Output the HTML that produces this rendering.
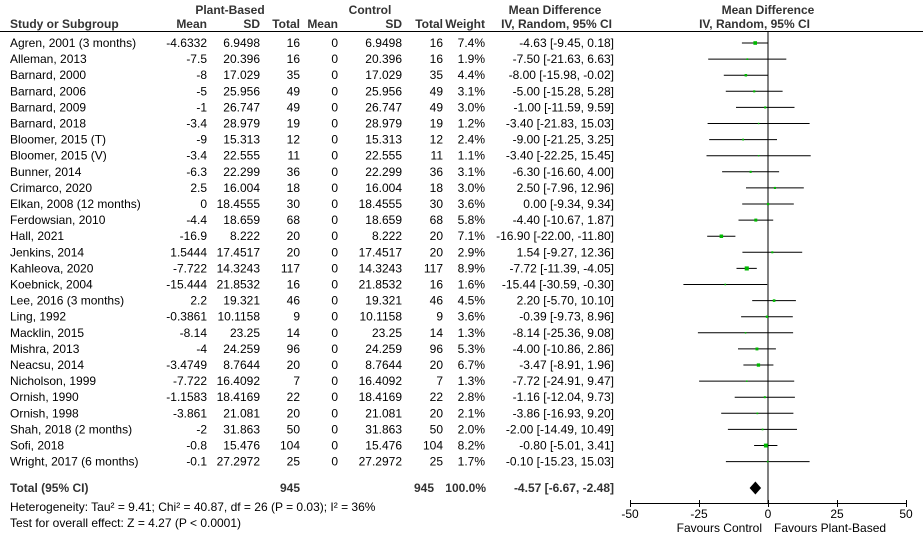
<!DOCTYPE html>
<html><head><meta charset="utf-8"><style>
html,body{margin:0;padding:0;background:#fff;}
svg{display:block;}
text{font-family:"Liberation Sans",Arial,sans-serif;font-size:12px;fill:#000;}
.h{font-weight:bold;fill:#333;}
.r text{text-anchor:end;}
.r text.l{text-anchor:start;}
</style></head><body>
<svg width="923" height="544" viewBox="0 0 923 544" xmlns="http://www.w3.org/2000/svg">
<text class="h" x="230" y="14" text-anchor="middle">Plant-Based</text>
<text class="h" x="370" y="14" text-anchor="middle">Control</text>
<text class="h" x="555" y="14" text-anchor="middle">Mean Difference</text>
<text class="h" x="768" y="14" text-anchor="middle">Mean Difference</text>
<g class="r">
<text class="h l" x="10" y="28">Study or Subgroup</text>
<text class="h" x="207" y="28">Mean</text><text class="h" x="260" y="28">SD</text><text class="h" x="300" y="28">Total</text>
<text class="h" x="338" y="28">Mean</text><text class="h" x="402" y="28">SD</text><text class="h" x="443" y="28">Total</text>
<text class="h" x="485" y="28">Weight</text><text class="h" x="612" y="28">IV, Random, 95% CI</text>
<text class="h" x="810" y="28">IV, Random, 95% CI</text>
</g>
<line x1="0" y1="31.5" x2="923" y2="31.5" stroke="#000"/>
<line x1="768" y1="32" x2="768" y2="503" stroke="#000"/>
<g class="r" id="rows">
<g transform="translate(0,47)"><text class="l" x="10">Agren, 2001 (3 months)</text><text x="207">-4.6332</text><text x="260">6.9498</text><text x="300">16</text><text x="338">0</text><text x="402">6.9498</text><text x="443">16</text><text x="485">7.4%</text><text x="614">-4.63 [-9.45, 0.18]</text></g>
<g transform="translate(0,63.1)"><text class="l" x="10">Alleman, 2013</text><text x="207">-7.5</text><text x="260">20.396</text><text x="300">16</text><text x="338">0</text><text x="402">20.396</text><text x="443">16</text><text x="485">1.9%</text><text x="614">-7.50 [-21.63, 6.63]</text></g>
<g transform="translate(0,79.2)"><text class="l" x="10">Barnard, 2000</text><text x="207">-8</text><text x="260">17.029</text><text x="300">35</text><text x="338">0</text><text x="402">17.029</text><text x="443">35</text><text x="485">4.4%</text><text x="614">-8.00 [-15.98, -0.02]</text></g>
<g transform="translate(0,95.3)"><text class="l" x="10">Barnard, 2006</text><text x="207">-5</text><text x="260">25.956</text><text x="300">49</text><text x="338">0</text><text x="402">25.956</text><text x="443">49</text><text x="485">3.1%</text><text x="614">-5.00 [-15.28, 5.28]</text></g>
<g transform="translate(0,111.4)"><text class="l" x="10">Barnard, 2009</text><text x="207">-1</text><text x="260">26.747</text><text x="300">49</text><text x="338">0</text><text x="402">26.747</text><text x="443">49</text><text x="485">3.0%</text><text x="614">-1.00 [-11.59, 9.59]</text></g>
<g transform="translate(0,127.5)"><text class="l" x="10">Barnard, 2018</text><text x="207">-3.4</text><text x="260">28.979</text><text x="300">19</text><text x="338">0</text><text x="402">28.979</text><text x="443">19</text><text x="485">1.2%</text><text x="614">-3.40 [-21.83, 15.03]</text></g>
<g transform="translate(0,143.6)"><text class="l" x="10">Bloomer, 2015 (T)</text><text x="207">-9</text><text x="260">15.313</text><text x="300">12</text><text x="338">0</text><text x="402">15.313</text><text x="443">12</text><text x="485">2.4%</text><text x="614">-9.00 [-21.25, 3.25]</text></g>
<g transform="translate(0,159.7)"><text class="l" x="10">Bloomer, 2015 (V)</text><text x="207">-3.4</text><text x="260">22.555</text><text x="300">11</text><text x="338">0</text><text x="402">22.555</text><text x="443">11</text><text x="485">1.1%</text><text x="614">-3.40 [-22.25, 15.45]</text></g>
<g transform="translate(0,175.8)"><text class="l" x="10">Bunner, 2014</text><text x="207">-6.3</text><text x="260">22.299</text><text x="300">36</text><text x="338">0</text><text x="402">22.299</text><text x="443">36</text><text x="485">3.1%</text><text x="614">-6.30 [-16.60, 4.00]</text></g>
<g transform="translate(0,191.9)"><text class="l" x="10">Crimarco, 2020</text><text x="207">2.5</text><text x="260">16.004</text><text x="300">18</text><text x="338">0</text><text x="402">16.004</text><text x="443">18</text><text x="485">3.0%</text><text x="614">2.50 [-7.96, 12.96]</text></g>
<g transform="translate(0,208)"><text class="l" x="10">Elkan, 2008 (12 months)</text><text x="207">0</text><text x="260">18.4555</text><text x="300">30</text><text x="338">0</text><text x="402">18.4555</text><text x="443">30</text><text x="485">3.6%</text><text x="614">0.00 [-9.34, 9.34]</text></g>
<g transform="translate(0,224.1)"><text class="l" x="10">Ferdowsian, 2010</text><text x="207">-4.4</text><text x="260">18.659</text><text x="300">68</text><text x="338">0</text><text x="402">18.659</text><text x="443">68</text><text x="485">5.8%</text><text x="614">-4.40 [-10.67, 1.87]</text></g>
<g transform="translate(0,240.2)"><text class="l" x="10">Hall, 2021</text><text x="207">-16.9</text><text x="260">8.222</text><text x="300">20</text><text x="338">0</text><text x="402">8.222</text><text x="443">20</text><text x="485">7.1%</text><text x="614">-16.90 [-22.00, -11.80]</text></g>
<g transform="translate(0,256.3)"><text class="l" x="10">Jenkins, 2014</text><text x="207">1.5444</text><text x="260">17.4517</text><text x="300">20</text><text x="338">0</text><text x="402">17.4517</text><text x="443">20</text><text x="485">2.9%</text><text x="614">1.54 [-9.27, 12.36]</text></g>
<g transform="translate(0,272.4)"><text class="l" x="10">Kahleova, 2020</text><text x="207">-7.722</text><text x="260">14.3243</text><text x="300">117</text><text x="338">0</text><text x="402">14.3243</text><text x="443">117</text><text x="485">8.9%</text><text x="614">-7.72 [-11.39, -4.05]</text></g>
<g transform="translate(0,288.5)"><text class="l" x="10">Koebnick, 2004</text><text x="207">-15.444</text><text x="260">21.8532</text><text x="300">16</text><text x="338">0</text><text x="402">21.8532</text><text x="443">16</text><text x="485">1.6%</text><text x="614">-15.44 [-30.59, -0.30]</text></g>
<g transform="translate(0,304.6)"><text class="l" x="10">Lee, 2016 (3 months)</text><text x="207">2.2</text><text x="260">19.321</text><text x="300">46</text><text x="338">0</text><text x="402">19.321</text><text x="443">46</text><text x="485">4.5%</text><text x="614">2.20 [-5.70, 10.10]</text></g>
<g transform="translate(0,320.7)"><text class="l" x="10">Ling, 1992</text><text x="207">-0.3861</text><text x="260">10.1158</text><text x="300">9</text><text x="338">0</text><text x="402">10.1158</text><text x="443">9</text><text x="485">3.6%</text><text x="614">-0.39 [-9.73, 8.96]</text></g>
<g transform="translate(0,336.8)"><text class="l" x="10">Macklin, 2015</text><text x="207">-8.14</text><text x="260">23.25</text><text x="300">14</text><text x="338">0</text><text x="402">23.25</text><text x="443">14</text><text x="485">1.3%</text><text x="614">-8.14 [-25.36, 9.08]</text></g>
<g transform="translate(0,352.9)"><text class="l" x="10">Mishra, 2013</text><text x="207">-4</text><text x="260">24.259</text><text x="300">96</text><text x="338">0</text><text x="402">24.259</text><text x="443">96</text><text x="485">5.3%</text><text x="614">-4.00 [-10.86, 2.86]</text></g>
<g transform="translate(0,369)"><text class="l" x="10">Neacsu, 2014</text><text x="207">-3.4749</text><text x="260">8.7644</text><text x="300">20</text><text x="338">0</text><text x="402">8.7644</text><text x="443">20</text><text x="485">6.7%</text><text x="614">-3.47 [-8.91, 1.96]</text></g>
<g transform="translate(0,385.1)"><text class="l" x="10">Nicholson, 1999</text><text x="207">-7.722</text><text x="260">16.4092</text><text x="300">7</text><text x="338">0</text><text x="402">16.4092</text><text x="443">7</text><text x="485">1.3%</text><text x="614">-7.72 [-24.91, 9.47]</text></g>
<g transform="translate(0,401.2)"><text class="l" x="10">Ornish, 1990</text><text x="207">-1.1583</text><text x="260">18.4169</text><text x="300">22</text><text x="338">0</text><text x="402">18.4169</text><text x="443">22</text><text x="485">2.8%</text><text x="614">-1.16 [-12.04, 9.73]</text></g>
<g transform="translate(0,417.3)"><text class="l" x="10">Ornish, 1998</text><text x="207">-3.861</text><text x="260">21.081</text><text x="300">20</text><text x="338">0</text><text x="402">21.081</text><text x="443">20</text><text x="485">2.1%</text><text x="614">-3.86 [-16.93, 9.20]</text></g>
<g transform="translate(0,433.4)"><text class="l" x="10">Shah, 2018 (2 months)</text><text x="207">-2</text><text x="260">31.863</text><text x="300">50</text><text x="338">0</text><text x="402">31.863</text><text x="443">50</text><text x="485">2.0%</text><text x="614">-2.00 [-14.49, 10.49]</text></g>
<g transform="translate(0,449.5)"><text class="l" x="10">Sofi, 2018</text><text x="207">-0.8</text><text x="260">15.476</text><text x="300">104</text><text x="338">0</text><text x="402">15.476</text><text x="443">104</text><text x="485">8.2%</text><text x="614">-0.80 [-5.01, 3.41]</text></g>
<g transform="translate(0,465.6)"><text class="l" x="10">Wright, 2017 (6 months)</text><text x="207">-0.1</text><text x="260">27.2972</text><text x="300">25</text><text x="338">0</text><text x="402">27.2972</text><text x="443">25</text><text x="485">1.7%</text><text x="614">-0.10 [-15.23, 15.03]</text></g>
<g transform="translate(0,492)"><text class="h l" x="10">Total (95% CI)</text><text class="h" x="300">945</text><text class="h" x="434">945</text><text class="h" x="486">100.0%</text><text class="h" x="614">-4.57 [-6.67, -2.48]</text></g>
</g>
<text x="10" y="511">Heterogeneity: Tau² = 9.41; Chi² = 40.87, df = 26 (P = 0.03); I² = 36%</text>
<text x="10" y="527">Test for overall effect: Z = 4.27 (P &lt; 0.0001)</text>
<g stroke="#000" stroke-width="1">
<line x1="741.9" y1="43" x2="768.5" y2="43"/>
<line x1="708.2" y1="59.1" x2="786.3" y2="59.1"/>
<line x1="723.8" y1="75.2" x2="767.9" y2="75.2"/>
<line x1="725.8" y1="91.3" x2="782.6" y2="91.3"/>
<line x1="736.0" y1="107.4" x2="794.5" y2="107.4"/>
<line x1="707.6" y1="123.5" x2="809.6" y2="123.5"/>
<line x1="709.2" y1="139.6" x2="777.0" y2="139.6"/>
<line x1="706.5" y1="155.7" x2="810.7" y2="155.7"/>
<line x1="722.1" y1="171.8" x2="779.1" y2="171.8"/>
<line x1="746.0" y1="187.9" x2="803.8" y2="187.9"/>
<line x1="742.2" y1="204" x2="793.8" y2="204"/>
<line x1="738.5" y1="220.1" x2="773.2" y2="220.1"/>
<line x1="707.2" y1="236.2" x2="735.4" y2="236.2"/>
<line x1="742.4" y1="252.3" x2="802.2" y2="252.3"/>
<line x1="736.5" y1="268.4" x2="756.8" y2="268.4"/>
<line x1="683.4" y1="284.5" x2="767.2" y2="284.5"/>
<line x1="752.2" y1="300.6" x2="795.9" y2="300.6"/>
<line x1="741.1" y1="316.7" x2="792.8" y2="316.7"/>
<line x1="697.9" y1="332.8" x2="793.1" y2="332.8"/>
<line x1="738.0" y1="348.9" x2="775.9" y2="348.9"/>
<line x1="743.4" y1="365" x2="773.4" y2="365"/>
<line x1="699.1" y1="381.1" x2="794.2" y2="381.1"/>
<line x1="734.7" y1="397.2" x2="794.9" y2="397.2"/>
<line x1="721.2" y1="413.3" x2="793.4" y2="413.3"/>
<line x1="727.9" y1="429.4" x2="797.0" y2="429.4"/>
<line x1="754.1" y1="445.5" x2="777.4" y2="445.5"/>
<line x1="725.9" y1="461.6" x2="809.6" y2="461.6"/>
</g>
<g fill="#00b800">
<rect x="753.4" y="41.2" width="3.6" height="3.6"/>
<rect x="746.5" y="58.3" width="1.7" height="1.7"/>
<rect x="744.6" y="74.0" width="2.5" height="2.5"/>
<rect x="753.2" y="90.3" width="2.1" height="2.1"/>
<rect x="764.2" y="106.4" width="2.1" height="2.1"/>
<rect x="757.9" y="122.8" width="1.4" height="1.4"/>
<rect x="742.2" y="138.7" width="1.8" height="1.8"/>
<rect x="757.9" y="155.0" width="1.4" height="1.4"/>
<rect x="749.6" y="170.8" width="2.1" height="2.1"/>
<rect x="773.9" y="186.9" width="2.1" height="2.1"/>
<rect x="766.9" y="202.9" width="2.3" height="2.3"/>
<rect x="754.3" y="218.6" width="3.0" height="3.0"/>
<rect x="719.6" y="234.5" width="3.5" height="3.5"/>
<rect x="771.3" y="251.3" width="2.0" height="2.0"/>
<rect x="744.7" y="266.4" width="4.1" height="4.1"/>
<rect x="724.5" y="283.7" width="1.6" height="1.6"/>
<rect x="772.8" y="299.3" width="2.6" height="2.6"/>
<rect x="765.8" y="315.6" width="2.3" height="2.3"/>
<rect x="744.8" y="332.1" width="1.5" height="1.5"/>
<rect x="755.5" y="347.5" width="2.9" height="2.9"/>
<rect x="756.8" y="363.4" width="3.3" height="3.3"/>
<rect x="746.0" y="380.4" width="1.5" height="1.5"/>
<rect x="763.8" y="396.2" width="2.0" height="2.0"/>
<rect x="756.5" y="412.5" width="1.7" height="1.7"/>
<rect x="761.7" y="428.6" width="1.7" height="1.7"/>
<rect x="763.9" y="443.6" width="3.9" height="3.9"/>
<rect x="766.9" y="460.8" width="1.6" height="1.6"/>
</g>
<polygon points="749.6,488 755.4,481.5 761.1,488 755.4,494.5" fill="#000"/>
<g stroke="#000">
<line x1="630" y1="503.5" x2="907" y2="503.5"/>
<line x1="630.5" y1="500" x2="630.5" y2="507"/>
<line x1="699.5" y1="500" x2="699.5" y2="507"/>
<line x1="768.5" y1="500" x2="768.5" y2="507"/>
<line x1="837.5" y1="500" x2="837.5" y2="507"/>
<line x1="906.5" y1="500" x2="906.5" y2="507"/>
</g>
<g text-anchor="middle">
<text x="630" y="518">-50</text><text x="699" y="518">-25</text><text x="768" y="518">0</text><text x="837" y="518">25</text><text x="906" y="518">50</text>
</g>
<text x="762" y="532" text-anchor="end">Favours Control</text>
<text x="774" y="532">Favours Plant-Based</text>
</svg>
</body></html>
